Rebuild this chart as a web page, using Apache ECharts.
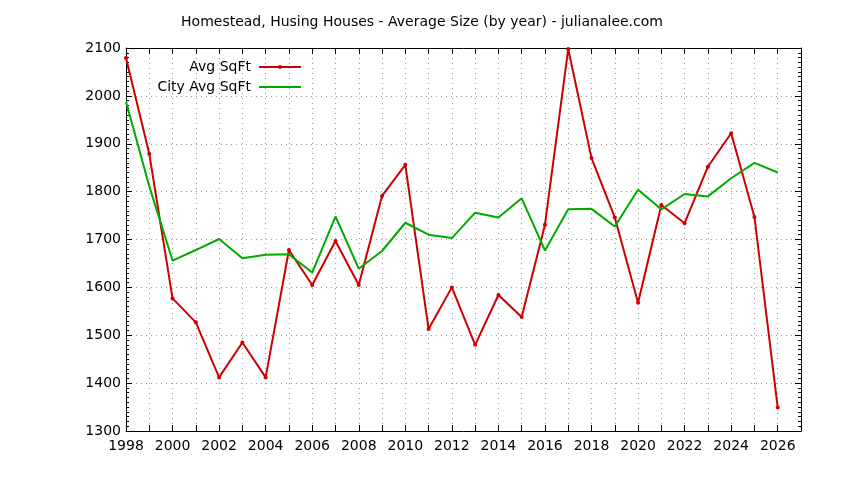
<!DOCTYPE html>
<html><head><meta charset="utf-8">
<script src="https://cdn.jsdelivr.net/npm/echarts@6/dist/echarts.min.js"></script>
<style>html,body{margin:0;padding:0;background:#fff}#c{width:844px;height:480px}</style>
</head><body><div id="c"></div>
<script>
const years = [1998,1999,2000,2001,2002,2003,2004,2005,2006,2007,2008,2009,2010,2011,2012,2013,2014,2015,2016,2017,2018,2019,2020,2021,2022,2023,2024,2025,2026];
const avgSqFt = [2079,1879,1577,1527,1412,1485,1412,1678,1605,1697,1605,1791,1856,1513,1600,1480,1584,1538,1731,2098,1870,1746,1568,1772,1734,1852,1922,1747,1349];
const cityAvgSqFt = [1988,1811,1656,1678,1701,1661,1668,1669,1631,1748,1639,1676,1735,1710,1703,1756,1746,1786,1677,1763,1764,1727,1804,1763,1795,1790,1828,1860,1840];
const titleText = 'Homestead, Husing Houses - Average Size (by year) - julianalee.com';

const FONT = 'DejaVu Sans';
const RED = '#cc0000', GREEN = '#00aa00';
const grid = {left:126, right:43, top:48, bottom:49};
const frame = {show:true, lineStyle:{color:'#000', width:1}};
const xBase = {type:'value', min:1998, max:2027, interval:1};
const yBase = {type:'value', min:1300, max:2100, interval:100};

const chart = echarts.init(document.getElementById('c'), null, {renderer:'canvas'});
chart.setOption({
  animation:false,
  backgroundColor:'#fff',
  title:{text:titleText, left:'center', top:10, textStyle:{fontFamily:FONT, fontSize:14, fontWeight:'normal', color:'#000'}},
  legend:[
    {data:['Avg SqFt'], right:537, top:55, itemWidth:42, itemHeight:5, itemGap:0, align:'right',
     textStyle:{fontFamily:FONT, fontSize:14, color:'#000', padding:[0,3,0,0]}},
    {data:['City Avg SqFt'], right:537, top:75, itemWidth:42, itemHeight:2, itemGap:0, align:'right',
     textStyle:{fontFamily:FONT, fontSize:14, color:'#000', padding:[0,3,0,0]}}
  ],
  grid:grid,
  xAxis:[
    Object.assign({}, xBase, {position:'bottom', axisLine:frame,
      axisTick:{show:true, inside:true, length:6, lineStyle:{color:'#000'}},
      axisLabel:{show:true, margin:8, showMaxLabel:false, fontFamily:FONT, fontSize:14, color:'#000',
        formatter:v => (v % 2 === 0 ? String(v) : '')},
      splitLine:{show:true, lineStyle:{color:'#999', type:[1,4], width:1}}}),
    Object.assign({}, xBase, {position:'top', axisLine:frame,
      axisTick:{show:true, inside:true, length:6, lineStyle:{color:'#000'}},
      axisLabel:{show:false}, splitLine:{show:false}})
  ],
  yAxis:[
    Object.assign({}, yBase, {position:'left', axisLine:frame,
      axisTick:{show:true, inside:true, length:6, lineStyle:{color:'#000'}},
      minorTick:{show:true, splitNumber:10, length:3, lineStyle:{color:'#000'}},
      axisLabel:{show:true, margin:5, fontFamily:FONT, fontSize:14, color:'#000', formatter:v => String(v)},
      splitLine:{show:true, lineStyle:{color:'#999', type:[1,4], width:1}}}),
    Object.assign({}, yBase, {position:'right', axisLine:frame,
      axisTick:{show:true, inside:true, length:6, lineStyle:{color:'#000'}},
      minorTick:{show:true, splitNumber:10, length:3, lineStyle:{color:'#000'}},
      axisLabel:{show:false}, splitLine:{show:false}})
  ],
  series:[
    {name:'Avg SqFt', type:'line', xAxisIndex:0, yAxisIndex:0,
     data:years.map((y,i)=>[y, avgSqFt[i]]),
     symbol:'circle', symbolSize:4, showSymbol:true,
     lineStyle:{color:RED, width:2}, itemStyle:{color:RED}},
    {name:'City Avg SqFt', type:'line', xAxisIndex:0, yAxisIndex:0,
     data:years.map((y,i)=>[y, cityAvgSqFt[i]]),
     symbol:'none', showSymbol:false,
     lineStyle:{color:GREEN, width:2}, itemStyle:{color:GREEN}}
  ]
});
</script></body></html>
